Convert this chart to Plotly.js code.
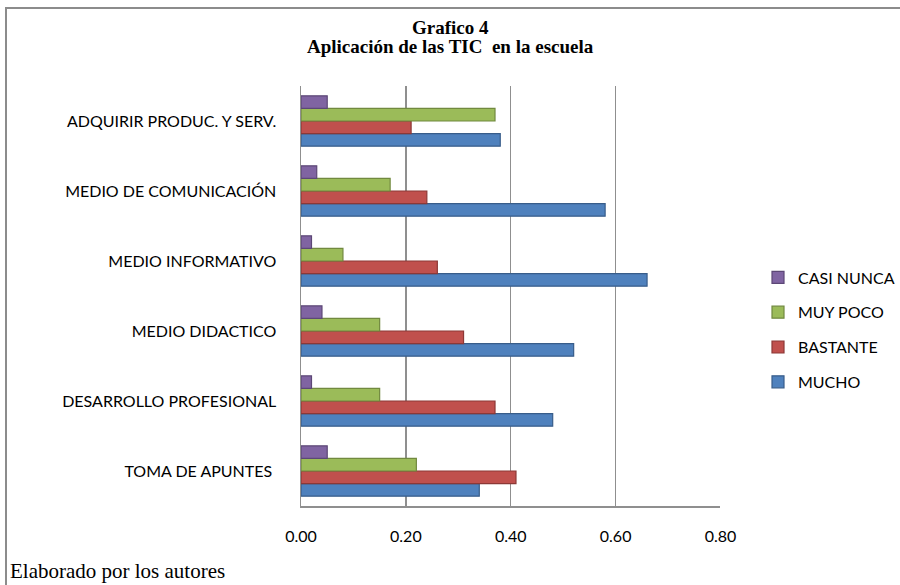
<!DOCTYPE html>
<html>
<head>
<meta charset="utf-8">
<script src="https://cdn.plot.ly/plotly-3.0.1.min.js"></script>
<style>
  html, body { margin: 0; padding: 0; background: #fff; }
  #wrap { position: relative; width: 900px; height: 585px; overflow: hidden; }
  #chart { position: absolute; left: 0; top: 0; width: 900px; height: 585px; }
  .bt { position: absolute; left: 5px; top: 7px; width: 895px; height: 2px; background: #8c8c8c; }
  .bl { position: absolute; left: 5px; top: 7px; width: 2px; height: 578px; background: #8c8c8c; }
</style>
</head>
<body>
<div id="wrap">
  <div id="chart"></div>
  <div class="bt"></div>
  <div class="bl"></div>
</div>
<script>
// Categories (bottom to top)
const categories = [
  "TOMA DE APUNTES ",
  "DESARROLLO PROFESIONAL",
  "MEDIO DIDACTICO",
  "MEDIO INFORMATIVO",
  "MEDIO DE COMUNICACIÓN",
  "ADQUIRIR PRODUC. Y SERV."
];
const seriesNames = ["MUCHO", "BASTANTE", "MUY POCO", "CASI NUNCA"];
const mucho     = [0.34, 0.48, 0.52, 0.66, 0.58, 0.38];
const bastante  = [0.41, 0.37, 0.31, 0.26, 0.24, 0.21];
const muyPoco   = [0.22, 0.15, 0.15, 0.08, 0.17, 0.37];
const casiNunca = [0.05, 0.02, 0.04, 0.02, 0.03, 0.05];
const xTicks = [0, 0.2, 0.4, 0.6, 0.8];

const values = [mucho, bastante, muyPoco, casiNunca];
const fills = ["#4F81BD", "#C0504D", "#9BBB59", "#8064A2"];
const edges = ["#385D8A", "#8C3836", "#71893F", "#5C4776"];

const traces = seriesNames.map((name, i) => ({
  type: "bar",
  orientation: "h",
  name: name,
  legendgroup: name,
  legendrank: 100 - i,
  x: values[i],
  y: categories,
  marker: { color: fills[i], line: { color: edges[i], width: 1.2 } },
  hoverinfo: "x+name"
}));

const layout = {
  width: 900,
  height: 585,
  paper_bgcolor: "#ffffff",
  plot_bgcolor: "#ffffff",
  margin: { l: 301, r: 0, t: 86, b: 79 },
  barmode: "group",
  bargap: 0.28,
  bargroupgap: 0,
  xaxis: {
    domain: [0, 0.7062],
    range: [0, 0.8],
    tickvals: xTicks,
    tickformat: ".2f",
    showgrid: true,
    gridcolor: "#8f8f8f",
    gridwidth: 1.5,
    zeroline: false,
    showline: true,
    linecolor: "#8f8f8f",
    linewidth: 1.5,
    ticks: "outside",
    ticklen: 15,
    tickcolor: "rgba(0,0,0,0)",
    tickfont: { family: "Lato", size: 16, color: "#000" },
    fixedrange: true
  },
  yaxis: {
    showgrid: false,
    zeroline: false,
    showline: true,
    linecolor: "#8f8f8f",
    linewidth: 1.5,
    ticks: "outside",
    ticklen: 20,
    tickcolor: "rgba(0,0,0,0)",
    tickfont: { family: "Lato", size: 16, color: "#000" },
    automargin: false,
    fixedrange: true
  },
  legend: {
    x: 0.77, xanchor: "left",
    y: 0.419, yanchor: "middle",
    traceorder: "grouped",
    tracegroupgap: 11,
    font: { family: "Lato", size: 16, color: "#000" },
    itemwidth: 30,
    bgcolor: "rgba(0,0,0,0)"
  },
  annotations: [
    {
      text: "<b>Grafico 4</b>",
      xref: "paper", yref: "paper",
      x: 0.252, xanchor: "center",
      y: 1.140, yanchor: "middle",
      showarrow: false,
      font: { family: "Liberation Serif", size: 19, color: "#000" }
    },
    {
      text: "<b>Aplicación de las TIC  en la escuela</b>",
      xref: "paper", yref: "paper",
      x: 0.252, xanchor: "center",
      y: 1.093, yanchor: "middle",
      showarrow: false,
      font: { family: "Liberation Serif", size: 19, color: "#000" }
    },
    {
      text: "Elaborado por los autores",
      xref: "paper", yref: "paper",
      x: -0.493, xanchor: "left",
      y: -0.155, yanchor: "middle",
      showarrow: false,
      font: { family: "Liberation Serif", size: 21, color: "#000" }
    }
  ],
  showlegend: true
};

Plotly.newPlot("chart", traces, layout, { displayModeBar: false, staticPlot: true });
</script>
</body>
</html>
